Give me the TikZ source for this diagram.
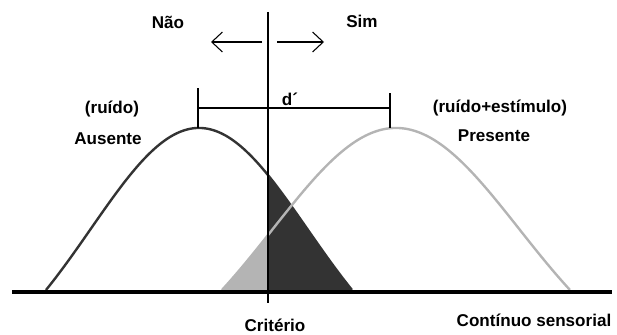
\documentclass[tikz,border=0pt]{standalone}
\usepackage{fontspec}
\setmainfont{Liberation Sans}
\usetikzlibrary{arrows.meta}
\definecolor{darkfill}{HTML}{333333}
\definecolor{lightfill}{HTML}{B4B4B4}
\tikzset{
  lbl/.style={font=\fontsize{12.8}{15}\selectfont\bfseries, inner sep=0pt},
  thin line/.style={line width=0.8pt, black},
  dir arrow/.style={line width=0.8pt, -{Straight Barb[length=8pt,width=15pt,line width=0.8pt]}},
}
\begin{document}
\begin{tikzpicture}[x=0.75pt,y=-0.75pt]
\path[use as bounding box] (0,0) rectangle (617,335);
% fills
\fill[lightfill] plot[domain=-1:-0.7356, samples=30] ({396+174*\x},{290-162*(exp(-(\x)*(\x))-0.3679)/0.6321}) -- (268,292) -- cycle;
\fill[darkfill] (268,292) -- plot[domain=0.451:1, samples=50] ({199+153*\x},{290-162*(exp(-(\x)*(\x))-0.3679)/0.6321}) -- cycle;
% curves
\draw[darkfill, line width=1.8pt] plot[domain=-1:1, samples=120] ({199+153*\x},{290-162*(exp(-(\x)*(\x))-0.3679)/0.6321});
\draw[lightfill, line width=1.8pt] plot[domain=-1:1, samples=120] ({396+174*\x},{290-162*(exp(-(\x)*(\x))-0.3679)/0.6321});
% baseline and criterion
\coordinate (b0) at (12,292);
\coordinate (b1) at (612,292);
\draw[line width=3pt] (b0) -- (b1);
\coordinate (c0) at (268,12);
\coordinate (c1) at (268,303);
\draw[thin line] (c0) -- (c1);
% direction arrows
\coordinate (la0) at (262,42);
\coordinate (la1) at (211,42);
\coordinate (ra0) at (277,42);
\coordinate (ra1) at (324,42);
\draw[dir arrow] (la0) -- (la1);
\draw[dir arrow] (ra0) -- (ra1);
% d' bracket
\coordinate (d0) at (198,108);
\coordinate (d1) at (390,108);
\coordinate (t0a) at (198,88);
\coordinate (t0b) at (198,128);
\coordinate (t1a) at (390,93);
\coordinate (t1b) at (390,128);
\draw[thin line] (d0) -- (d1);
\draw[thin line] (t0a) -- (t0b);
\draw[thin line] (t1a) -- (t1b);
% labels
\node[lbl] (nao) at (168,22) {Não};
\node[lbl] (sim) at (362,21) {Sim};
\node[lbl] (dprime) at (290,99) {d´};
\node[lbl] (ruido) at (112,109) {(ruído)};
\node[lbl] (ausente) at (108,139) {Ausente};
\node[lbl] (ruidoest) at (500,108) {(ruído+estímulo)};
\node[lbl] (presente) at (494,136) {Presente};
\node[lbl] (criterio) at (275,325) {Critério};
\node[lbl] (continuo) at (534,320) {Contínuo sensorial};
\end{tikzpicture}
\end{document}
